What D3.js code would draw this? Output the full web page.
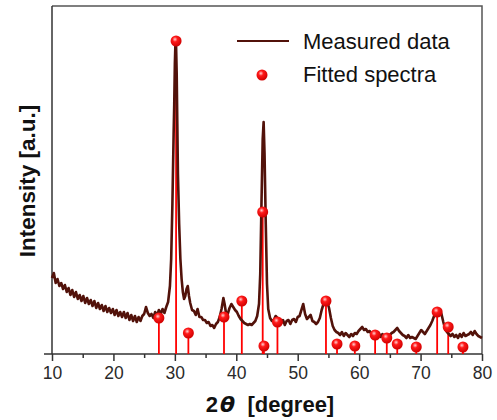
<!DOCTYPE html>
<html>
<head>
<meta charset="utf-8">
<script src="https://cdn.jsdelivr.net/npm/d3@7"></script>
<style>
  body { margin: 0; background: #fff; }
  svg { display: block; font-family: "Liberation Sans", Arial, sans-serif; }
  .tick text { fill: #2a2a2a; }
</style>
</head>
<body>
<svg id="Vis" width="497" height="420"></svg>
<script>
/*
* DATA
*/

// measured XRD pattern: 2theta (degree) and intensity (a.u.)
const measuredX = [
  10.0, 10.3, 10.6, 10.9, 11.2, 11.5, 11.8, 12.1, 12.4, 12.7, 13.0, 13.3, 13.6, 13.9, 14.2, 14.5, 14.8, 15.1, 15.4, 15.7,
  16.0, 16.3, 16.6, 16.9, 17.2, 17.5, 17.8, 18.1, 18.4, 18.7, 19.0, 19.3, 19.6, 19.9, 20.2, 20.5, 20.8, 21.1, 21.4, 21.7,
  22.0, 22.3, 22.6, 22.9, 23.2, 23.5, 23.8, 24.1, 24.4, 24.7, 25.0, 25.3, 25.6, 25.9, 26.2, 26.5, 26.8, 27.1, 27.4, 27.7,
  28.0, 28.3, 28.6, 28.9, 29.2, 29.4, 29.6, 29.8, 29.9, 30.0, 30.1, 30.2, 30.3, 30.4, 30.5, 30.7, 30.9, 31.1, 31.3, 31.5,
  31.7, 31.9, 32.1, 32.3, 32.5, 32.8, 33.1, 33.4, 33.7, 34.0, 34.3, 34.6, 34.9, 35.2, 35.5, 35.8, 36.1, 36.4, 36.7, 37.0,
  37.3, 37.6, 37.9, 38.1, 38.3, 38.6, 38.9, 39.2, 39.5, 39.8, 40.1, 40.4, 40.7, 41.0, 41.3, 41.6, 41.9, 42.2, 42.5, 42.8,
  43.1, 43.4, 43.7, 43.9, 44.1, 44.3, 44.45, 44.6, 44.8, 45.0, 45.2, 45.5, 45.8, 46.1, 46.4, 46.7, 47.0, 47.3, 47.6, 47.9,
  48.2, 48.5, 48.8, 49.1, 49.4, 49.7, 50.0, 50.3, 50.6, 50.9, 51.2, 51.5, 51.8, 52.1, 52.4, 52.7, 53.0, 53.3, 53.6, 53.9,
  54.2, 54.5, 54.8, 55.1, 55.4, 55.7, 56.0, 56.3, 56.6, 56.9, 57.2, 57.5, 57.8, 58.1, 58.4, 58.7, 59.0, 59.3, 59.6, 59.9,
  60.2, 60.5, 60.8, 61.1, 61.4, 61.7, 62.0, 62.3, 62.6, 62.9, 63.2, 63.5, 63.8, 64.1, 64.4, 64.7, 65.0, 65.3, 65.6, 65.9,
  66.2, 66.5, 66.8, 67.1, 67.4, 67.7, 68.0, 68.3, 68.6, 68.9, 69.2, 69.5, 69.8, 70.1, 70.4, 70.7, 71.0, 71.3, 71.6, 71.9,
  72.2, 72.5, 72.8, 73.1, 73.4, 73.7, 74.0, 74.3, 74.6, 74.9, 75.2, 75.5, 75.8, 76.1, 76.4, 76.7, 77.0, 77.3, 77.6, 77.9,
  78.2, 78.5, 78.8, 79.1, 79.4, 79.7, 80.0
];
const measuredY = [
  76, 81, 71, 75, 68, 71, 65, 69, 62, 66, 59, 64, 57, 62, 55, 59, 53, 58, 51, 56,
  50, 54, 48, 53, 46, 51, 45, 49, 43, 48, 42, 46, 41, 45, 39, 44, 38, 42, 37, 42,
  36, 41, 34, 39, 33, 38, 32, 37, 33, 38, 40, 47, 41, 38, 40, 36, 42, 38, 44, 40,
  45, 41, 47, 52, 68, 95, 150, 220, 250, 290, 312, 308, 280, 230, 180, 130, 95, 75, 62, 55,
  58, 65, 68, 58, 51, 44, 43, 39, 45, 37, 37, 34, 34, 31, 32, 28, 29, 26, 30, 32,
  37, 45, 56, 50, 42, 40, 46, 50, 47, 44, 42, 38, 35, 33, 31, 30, 29, 30, 29, 31,
  33, 38, 50, 80, 150, 215, 232, 200, 130, 70, 45, 36, 33, 34, 38, 36, 32, 31, 34, 29,
  33, 34, 30, 34, 35, 32, 37, 38, 44, 50, 40, 35, 37, 39, 33, 32, 30, 32, 36, 44,
  50, 55, 53, 46, 36, 28, 24, 22, 21, 19, 22, 18, 21, 19, 17, 20, 18, 21, 20, 23,
  25, 27, 24, 25, 22, 23, 20, 21, 20, 19, 21, 17, 20, 16, 19, 17, 19, 21, 22, 24,
  26, 23, 21, 19, 18, 16, 19, 16, 17, 16, 15, 18, 21, 24, 22, 20, 23, 26, 29, 33,
  38, 40, 42, 44, 40, 32, 25, 22, 20, 18, 20, 17, 19, 16, 20, 17, 21, 18, 19, 20,
  22, 19, 23, 20, 18, 17, 16
];

// fitted reflections: position and intensity
const fittedX = [27.4, 30.2, 32.2, 38.0, 40.9, 44.3, 44.5, 46.7, 54.6, 56.4, 59.3, 62.6, 64.5, 66.2, 69.3, 72.7, 74.5, 76.9];
const fittedY = [36, 313, 21, 37, 53, 142, 8, 32, 53, 10, 8, 19, 16, 10, 7, 42, 27, 7];

const xTicks = [10, 20, 30, 40, 50, 60, 70, 80];
const xMinorTicks = [15, 25, 35, 45, 55, 65, 75];

const lineColor = "#52120a";
const fitColor = "#ff0000";

/*
* SETUP
*/

const svg = d3.select("svg#Vis");
const margin = { left: 52, right: 15, top: 6, bottom: 66 };
const width = 497, height = 420;

const x = d3.scaleLinear().domain([10, 80]).range([margin.left, width - margin.right]);
const y = d3.scaleLinear().domain([0, 348]).range([height - margin.bottom, margin.top]);

/* gradient for the ball markers */
const defs = svg.append("defs");
const grad = defs.append("radialGradient")
  .attr("id", "ball")
  .attr("cx", "40%").attr("cy", "35%").attr("r", "65%");
grad.append("stop").attr("offset", "0%").attr("stop-color", "#ffd0d0");
grad.append("stop").attr("offset", "35%").attr("stop-color", "#ff1a1a");
grad.append("stop").attr("offset", "100%").attr("stop-color", "#d00000");

/*
* FRAME AND AXES
*/

const y0 = y(0);

// top and right border
svg.append("path")
  .attr("d", `M${x(10)},${y.range()[1]}H${x(80)}V${y0}`)
  .attr("fill", "none")
  .attr("stroke", "#555")
  .attr("stroke-width", 1.5);

// left axis line (no ticks)
svg.append("line")
  .attr("x1", x(10)).attr("x2", x(10))
  .attr("y1", y.range()[1]).attr("y2", y0)
  .attr("stroke", "#333")
  .attr("stroke-width", 1.5);

// minor ticks
svg.append("g")
  .attr("transform", `translate(0,${y0})`)
  .call(d3.axisBottom(x).tickValues(xMinorTicks).tickSize(4).tickFormat(""))
  .call(g => g.select(".domain").remove())
  .selectAll("line").attr("stroke", "#333").attr("stroke-width", 1.5);

// major ticks + labels
const xAxis = svg.append("g")
  .attr("transform", `translate(0,${y0})`)
  .call(d3.axisBottom(x).tickValues(xTicks).tickSize(7).tickSizeOuter(0).tickPadding(6).tickFormat(d3.format("d")));
xAxis.select(".domain").remove();
xAxis.selectAll("line").attr("stroke", "#333").attr("stroke-width", 1.5);
xAxis.selectAll("text")
  .attr("font-size", 17.5)
  .attr("font-family", "Liberation Sans, Arial, sans-serif");

// baseline, extended a bit to the left of the y axis
svg.append("line")
  .attr("x1", x(10) - 8).attr("x2", x(80))
  .attr("y1", y0).attr("y2", y0)
  .attr("stroke", "#333")
  .attr("stroke-width", 1.5);

/* Axis titles */
const xTitle = svg.append("text")
  .attr("x", 270)
  .attr("y", 412)
  .attr("text-anchor", "middle")
  .attr("font-size", 22)
  .attr("font-weight", "bold")
  .attr("fill", "#111");
xTitle.append("tspan").text("2");
xTitle.append("tspan").attr("font-style", "italic").attr("font-family", "DejaVu Sans").attr("dx", 2).text("θ");
xTitle.append("tspan").text("  [degree]").attr("xml:space", "preserve");

svg.append("text")
  .attr("transform", "translate(35,181) rotate(-90)")
  .attr("text-anchor", "middle")
  .attr("font-size", 22.5)
  .attr("font-weight", "bold")
  .attr("fill", "#111")
  .text("Intensity [a.u.]");

/*
* MARKS
*/

const measured = measuredX.map((d, i) => [d, measuredY[i]]);
const fitted = fittedX.map((d, i) => [d, fittedY[i]]);

// stems of the fitted reflections
svg.append("g")
  .selectAll("line")
  .data(fitted)
  .join("line")
    .attr("x1", d => x(d[0])).attr("x2", d => x(d[0]))
    .attr("y1", y0).attr("y2", d => y(d[1]))
    .attr("stroke", fitColor)
    .attr("stroke-width", 1.8);

// measured pattern
const line = d3.line()
  .x(d => x(d[0]))
  .y(d => y(d[1]));

svg.append("path")
  .datum(measured)
  .attr("d", line)
  .attr("fill", "none")
  .attr("stroke", lineColor)
  .attr("stroke-width", 2.6)
  .attr("stroke-linejoin", "round");

// ball markers
svg.append("g")
  .selectAll("circle")
  .data(fitted)
  .join("circle")
    .attr("cx", d => x(d[0]))
    .attr("cy", d => y(d[1]))
    .attr("r", 5.5)
    .attr("fill", "url(#ball)");

/*
* LEGEND
*/

const legend = svg.append("g").attr("font-size", 22).attr("fill", "#111");

legend.append("line")
  .attr("x1", 237).attr("x2", 289)
  .attr("y1", 41).attr("y2", 41)
  .attr("stroke", lineColor)
  .attr("stroke-width", 2.2);
legend.append("text").attr("x", 303).attr("y", 49).text("Measured data");

legend.append("circle")
  .attr("cx", 262).attr("cy", 75).attr("r", 5.5)
  .attr("fill", "url(#ball)");
legend.append("text").attr("x", 303).attr("y", 82).text("Fitted spectra");
</script>
</body>
</html>
